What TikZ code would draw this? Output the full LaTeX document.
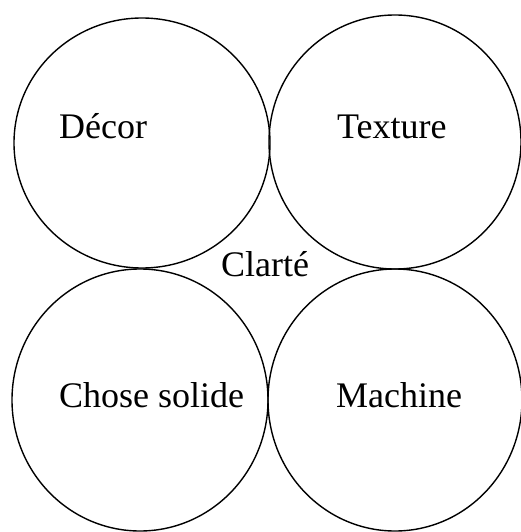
\documentclass[tikz,border=0pt]{standalone}
\usepackage{fontspec}
\setmainfont{Liberation Serif}
\begin{document}
\begin{tikzpicture}[x=1pt,y=-1pt,
  ring/.style={draw=black,line width=1.4pt},
  lbl/.style={anchor=base west,inner sep=0pt,font=\fontsize{36}{40}\selectfont}]
\useasboundingbox (0,0) rectangle (521,532);
\draw[ring] (142,143) ellipse [x radius=128,y radius=125];
\draw[ring] (395,142) ellipse [x radius=126,y radius=127];
\draw[ring] (140,400) ellipse [x radius=128,y radius=131];
\draw[ring] (395,400) ellipse [x radius=127,y radius=131];
\node[lbl] (decor) at (59,139) {Décor};
\node[lbl] (texture) at (337,138) {Texture};
\node[lbl] (clarte) at (221,276) {Clarté};
\node[lbl] (chose) at (59,407) {Chose solide};
\node[lbl] (machine) at (336,407) {Machine};
\end{tikzpicture}
\end{document}
